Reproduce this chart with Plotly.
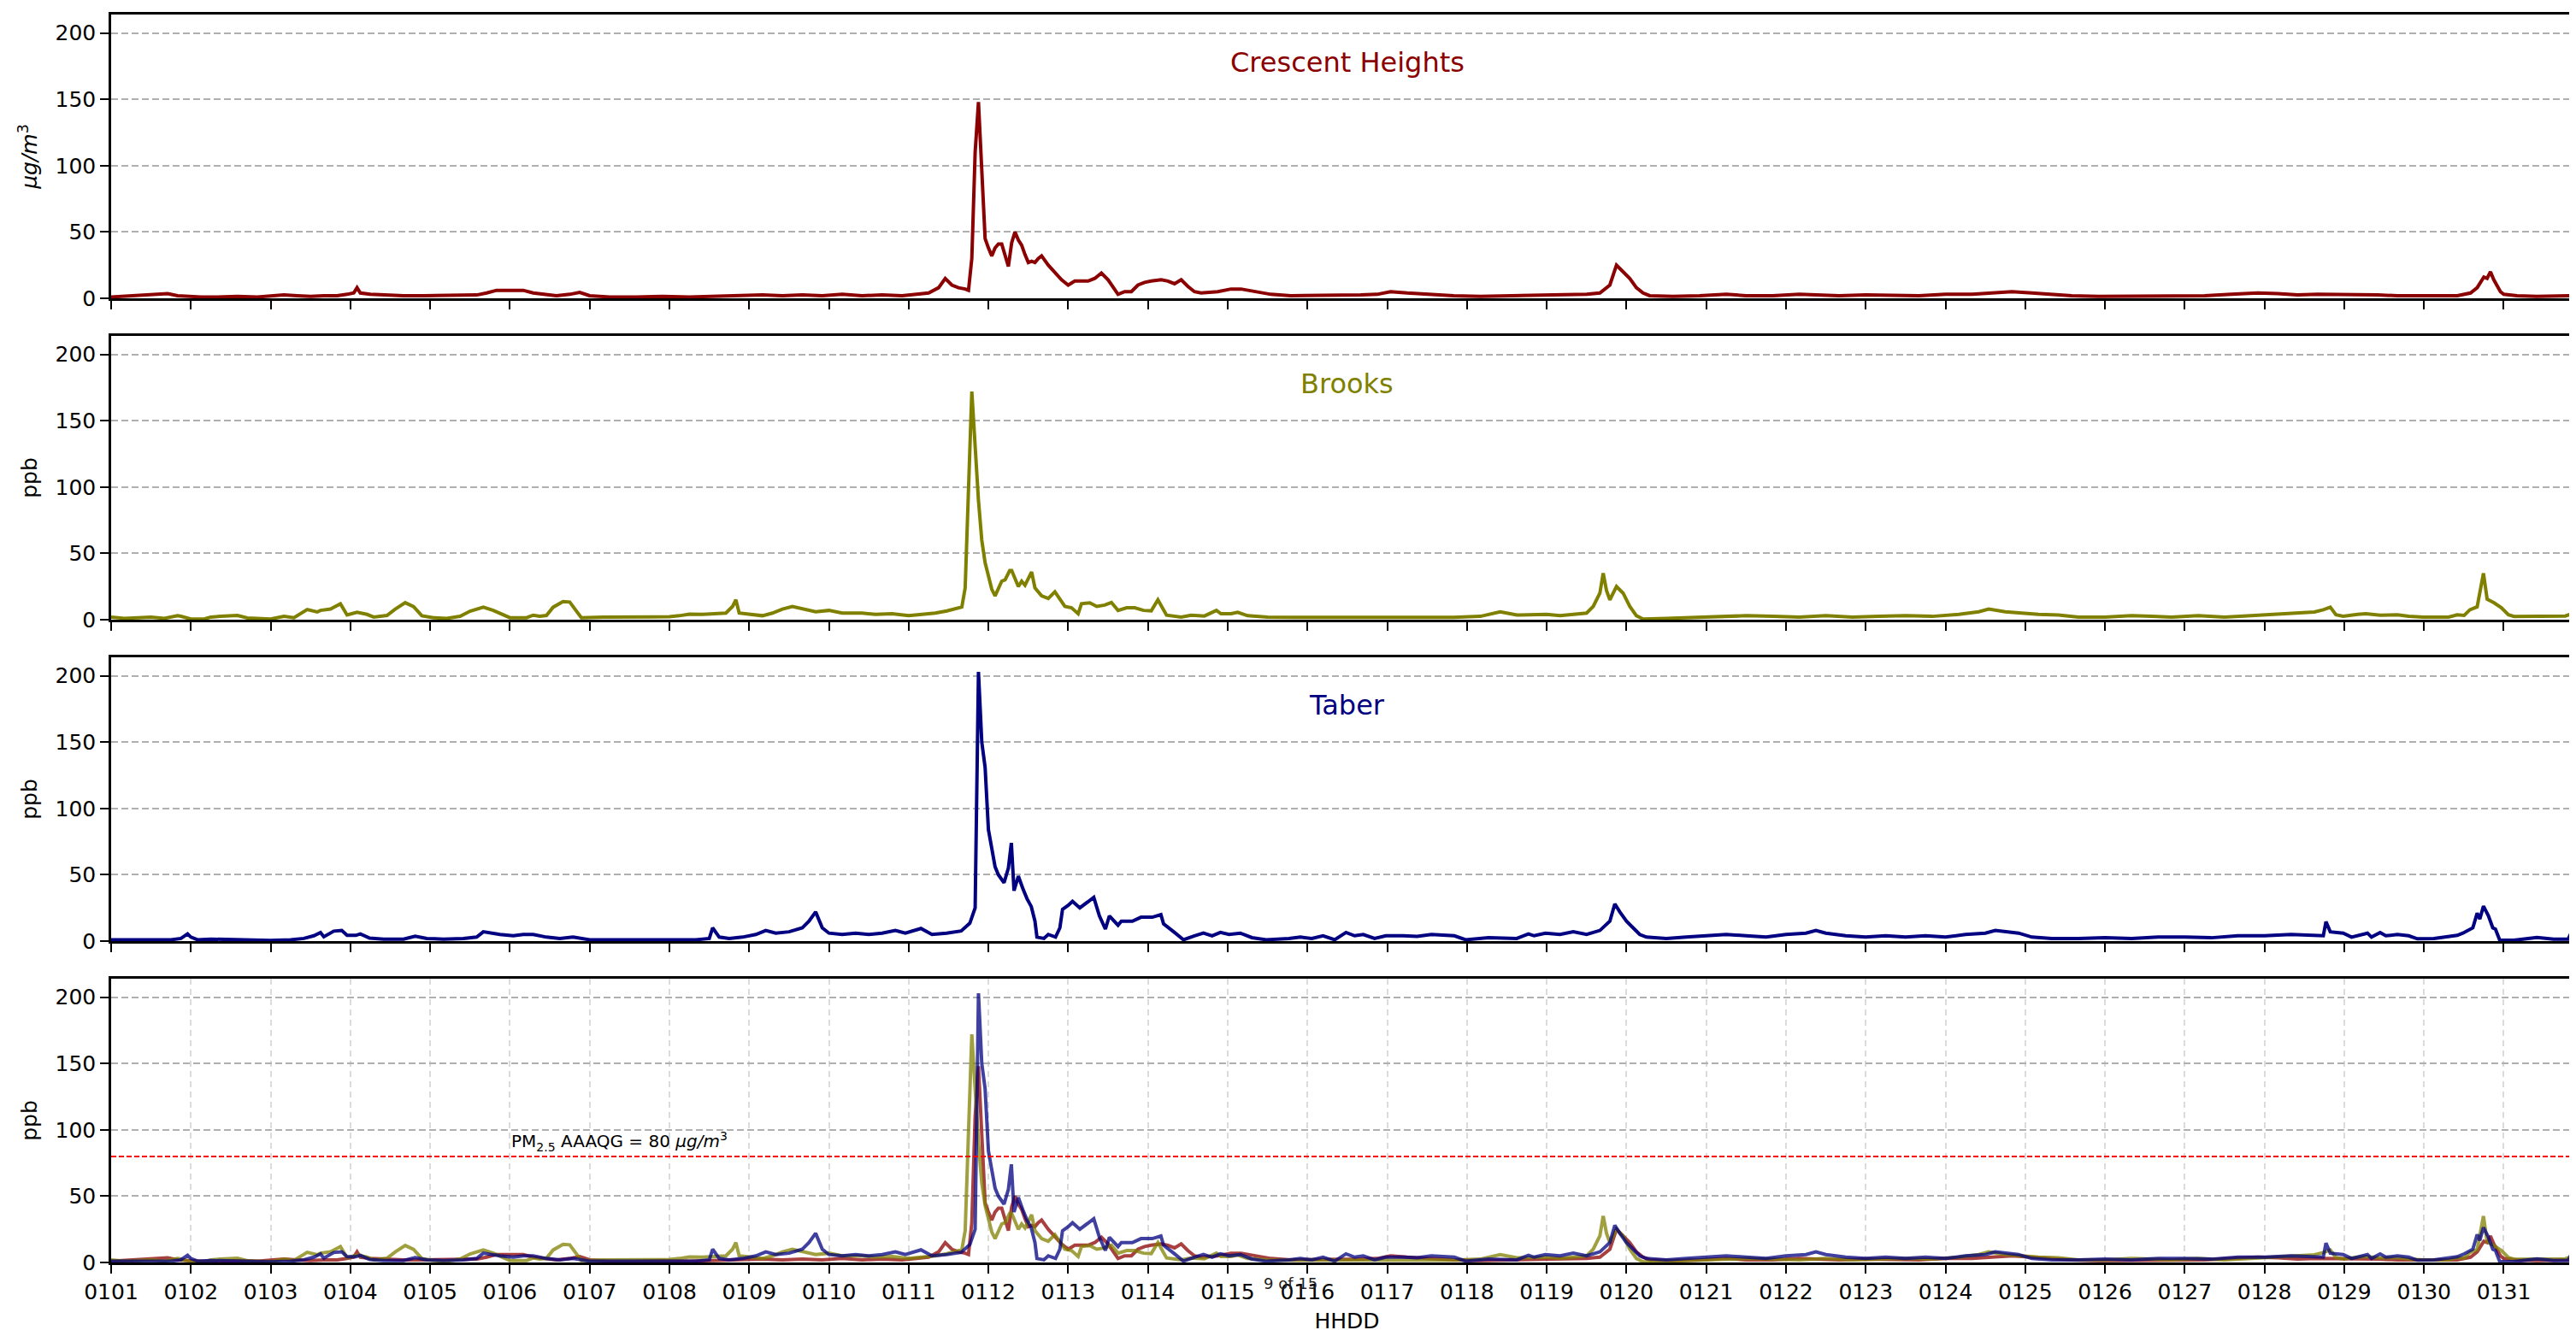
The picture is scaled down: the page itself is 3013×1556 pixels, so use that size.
import plotly.graph_objects as go

# ---------------- data (hours since 0101 00:00) ----------------
day_labels = ["01%02d" % d for d in range(1, 32)]
day_ticks = [24 * k for k in range(31)]

ch_hours = [0,4,8,11,14,17,20,23,27,32,38,44,48,52,56,60,64,68,71,73,74,75,78,82,88,94,100,106,110,113,116,120,124,127,130,134,138,141,144,150,158,166,174,182,190,196,202,208,214,220,226,232,238,242,246,249,251,253,255,257,258,259,260,261,262,263,264,265,266,267,268,269,270,271,272,273,274,275,276,277,278,279,280,282,284,286,288,290,292,294,296,298,300,301,303,305,307,309,311,313,316,318,320,322,324,326,328,333,337,340,344,349,355,363,370,376,381,385,390,397,404,412,420,428,435,440,444,448,451,453,455,457,459,461,463,470,478,486,492,500,508,514,520,528,536,544,552,560,566,572,578,584,590,598,606,614,622,630,638,646,652,658,664,670,676,682,688,694,700,706,710,712,713,714,715,716,717,718,719,720,724,730,736,743]
ch_values = [1,1.5,2,3,3,3.5,2,1.5,1,1,1.5,1,1.5,2.5,2,1.5,2,2,3,4,8,4,3,2.5,2,2,2,2,2.5,4,6,6,6,4,3,2,3,4.5,2,1,1,1.5,1,1.5,2,2.5,2,2.5,2,3,2,2.5,2,3,4,8,15,10,8,7,6,30,110,148,95,45,38,32,38,41,41,32,24,42,50,44,40,33,27,28,27,30,32,25,19,14,10,13,13,13,15,19,14,10,3,5,5,10,12,13,14,13,11,14,9,5,4,5,7,7,5,3,2,2,2,2.5,3,5,4,3,2,1.5,2,2,2.5,3,3,4,10,25,20,15,8,4,2,1.5,2,3,2,2,3,2.5,2,2.5,2,2,3,3,4,5,4,3,2,1.5,1.5,2,2,2,3,4,3.5,2.5,3,3,3,2.5,2,2,1.5,2,4,8,12,16,15,20,14,10,5,3,2,1.5,1.5,2]

br_hours = [0,4,8,12,16,20,21,24,28,30,33,36,38,41,48,52,55,59,62,63,66,67,69,71,74,77,79,83,85.5,88.5,91,93.5,97,101,105,108,112,115,120,125,127,129,131,133,136,138,141.5,148,156,168,171,174,178,182,185,187,188,189,192,196,199,202,205,208,212,216,220,226,230,235,240,244,248,251.5,254,256,257,258,259,260,261,262,263,265,266,268,269,270.4,271,273,274,275,277,278,280,282,284,287,289,291,292,294.5,296.6,299,301,303,305.6,308,310.7,313,315,317.6,320,322,325,329,332.6,334,337,339,342,348,356,364,372,380,388,396,404,412,418,423,428,432,436,440,444,446,448,449,450,451,453,455,457,459,461,468,476,484,492,500,508,516,524,532,540,548,556,562,565,570,575,580,586,592,600,608,614,620,628,636,644,652,658,663,665.7,667.8,669.5,671.7,676,678.5,682.8,688,691.4,695.7,703.4,706,708.1,709.8,712,713.9,715,717.1,719.3,721.4,723.1,731.7,738.5,741.1,743]
br_values = [2,1,1.5,2,1,3,2.6,0.5,0.5,2,2.6,2.6,3.2,1.3,0.5,2.6,1.5,7.7,5.8,7,8,9.4,12,3.6,5.6,4,2,3.2,8,12.8,9.9,3,1.5,1,2.6,6.4,9.4,7,1.5,1.5,3.4,2.6,3.2,9.4,13.7,13.3,1.5,2,2.2,2.2,3,4.2,4,4.5,5,10,15,5,4,3,5,8,10,8,6,7,5,5,4,4.5,3,4,5,6.6,8.6,9.6,24,90,172,131,90,60,43,23,18,29,30,37,37,25,29,26,36,24,18,16,21,10,9,4.5,12,12.7,10,11,13,7,9,9,7,6.7,15,3.4,2.8,2,3.4,2.8,7,4.5,4.5,5.6,3,2,1.7,1.7,1.7,2,1.7,2,1.7,2.5,6,3.5,4,4,3,4,5,10,20,35,22,15,25,20,10,3,0.5,1,1.5,2,3,2.5,2,3,2,2.5,3,2.5,4,6,8,6,5,4,3.5,2,2,3,2.5,2,3,2,3,4,5,5.8,7.5,9.4,3.7,2.6,4,4.5,3.4,3.7,2.6,2,2,3.7,3.3,7.5,9.7,35,15.5,12.7,9,3.7,2.4,2.4,2.8,5,3]

tb_hours = [0,6,12,18,21,23,24,26,30,36,42,48,54,58,61,63,64,67,69.4,71,73.6,75,77.8,82,88,91.5,95,100,106,110,112,114,117,121,124,127,131,135,139,144,152,160,168,176,180,181,183,186,190,194,197,200,204,208,210,212,214,216,220,224,228,232,236,239,243.7,247,251.4,255.8,258.4,260,261,262,263,264,265,266,267,268.7,270,270.9,271.7,273,274.3,275.6,276.9,278,278.6,280.7,282,284.2,285.5,286.3,288,289.3,291.5,293,295.7,297.4,299.2,300.4,303,304,307.3,309.9,313.3,315.9,316.7,320,322.7,326,328.7,331.3,333.8,336.4,339.8,343.3,347.6,354.4,357.9,361.3,364.7,368.2,371.6,374.2,376.8,380.2,383.6,388.8,393,397.3,404.2,407.6,414.5,423,426.5,428.2,431.6,436,440,444,448,451,452.5,454,456,458,460,462,468,474,480,486,492,498,504,510,513,516,522,528,534,540,546,552,558,564,567,570,574,578,584,592,600,608,616,624,632,640,648,656,662,665.7,666.5,667.8,671.7,674.2,679,680.2,682.8,684.5,688,691.4,694,699,706,707.7,710.7,712,712.8,713.9,715.4,716.7,717.5,718.8,723,730,735,739.4,740.7,742,743]
tb_values = [1,1,0.5,1,2,5.4,3,1,1.5,1,1,0.5,1,2,4,6.5,3.3,7.5,8,4.3,4.3,5.4,2.2,1.5,1.5,3.7,2,1.5,2,3,7,6,5,4,5,5,3,2,3,1,1,0.5,1,1,2,10,3,2,3,5,8,6,7,10,15,22,10,6,5,6,5,6,8,6,9.5,5,6,7.6,13.5,25,203,150,131,84,70,56,50,44,55,74,38,49,40,32,26,15,3,2,5,3,10,24,27,30,25,28,33,19,9,19,12,15,15,18,18,20,13,6.5,1,4,6,4,6.5,5,6,2.6,1,2,3,2,4,1,6.5,4,5,2,4,4,3.5,5,4,1,2.6,2,5.4,4,6,5,7,5,8,15,28,22,15,10,5,3,2,3,4,5,4,3,5,6,8,6,4,3,4,3,4,3,5,6,8,7,6,3,2,2,2.5,2,3,3,2.5,4,4,5,4,4,14.6,7,6,3,6,3,6.5,4,5,4,1.7,2,4.3,6,10,21,16.7,26.4,19,10,9,0.6,0.6,2.7,1.5,1.5,8.6,1,0.6]

stations = ["Crescent Heights", "Brooks", "Taber"]
units = ["<i>μg/m</i><sup>3</sup>", "ppb", "ppb", "ppb"]
colors = ["#8B0000", "#808000", "#000080"]
colors_alpha = ["rgba(139,0,0,0.75)", "rgba(128,128,0,0.75)", "rgba(0,0,128,0.75)"]
aaqg_value = 80
aaqg_text = "PM<sub>2.5</sub> AAAQG = 80 <i>μg/m</i><sup>3</sup>"
page_text = "9 of 15"

series = [(ch_hours, ch_values), (br_hours, br_values), (tb_hours, tb_values)]

# ---------------- layout geometry ----------------
W, H = 3013, 1556
ML, MR, MT, MB = 122, 0, 9, 87
plot_h = H - MT - MB
panel_h = 332
gap = (plot_h - 4 * panel_h) / 3
FONT = "DejaVu Sans"
TICK_SIZE = 25


def ax(kind, n):
    return kind if n == 1 else "%s%d" % (kind, n)


fig = go.Figure()

domains = []
for i in range(4):
    top = plot_h - i * (panel_h + gap)
    bottom = top - panel_h
    domains.append([bottom / plot_h, top / plot_h])

for i in range(3):
    h, v = series[i]
    fig.add_trace(go.Scatter(x=h, y=v, mode="lines", line=dict(color=colors[i], width=4),
                             xaxis=ax("x", i + 1), yaxis=ax("y", i + 1), showlegend=False))
for i in range(3):
    h, v = series[i]
    fig.add_trace(go.Scatter(x=h, y=v, mode="lines", line=dict(color=colors_alpha[i], width=4),
                             xaxis="x4", yaxis="y4", showlegend=False))

xr = [0, 743.8]
layout_axes = {}
for i in range(4):
    n = i + 1
    xa = dict(domain=[0, 1], range=xr, tickmode="array", tickvals=day_ticks, ticktext=day_labels,
              ticks="outside", ticklen=10, tickwidth=2, tickcolor="black",
              showline=True, linecolor="black", linewidth=2.5, mirror=True,
              showticklabels=(i == 3), tickfont=dict(size=TICK_SIZE, color="black", family=FONT),
              zeroline=False, anchor=ax("y", n),
              showgrid=(i == 3), gridcolor="rgba(190,190,190,0.55)", gridwidth=2, griddash="7px,5px")
    if i == 3:
        xa["title"] = dict(text="HHDD", font=dict(size=TICK_SIZE, color="black", family=FONT), standoff=12)
    else:
        xa["matches"] = "x4"
    ya = dict(domain=domains[i], range=[0, 214], tickmode="array", tickvals=[0, 50, 100, 150, 200],
              ticks="outside", ticklen=10, tickwidth=2, tickcolor="black",
              showline=True, linecolor="black", linewidth=2.5, mirror=False,
              tickfont=dict(size=TICK_SIZE, color="black", family=FONT), zeroline=False,
              showgrid=True, gridcolor="#b0b0b0", gridwidth=2, griddash="8px,4px",
              anchor=ax("x", n),
              title=dict(text=units[i], font=dict(size=TICK_SIZE, color="black", family=FONT), standoff=14))
    layout_axes[ax("xaxis", n)] = xa
    layout_axes[ax("yaxis", n)] = ya

annotations = []
for i in range(3):
    annotations.append(dict(text=stations[i], x=0.5, xref=ax("x", i + 1) + " domain",
                            y=1 - 56 / panel_h, yref=ax("y", i + 1) + " domain",
                            showarrow=False, xanchor="center", yanchor="middle",
                            font=dict(size=32, color=colors[i], family=FONT)))
annotations.append(dict(text=aaqg_text, x=120, xref="x4", y=aaqg_value, yref="y4",
                        xanchor="left", yanchor="bottom", yshift=1, showarrow=False,
                        font=dict(size=20, color="black", family=FONT)))
annotations.append(dict(text=page_text, x=355, xref="x4", y=-0.017, yref="paper",
                        xanchor="center", yanchor="middle", showarrow=False,
                        font=dict(size=18, color="#222222", family=FONT)))

shapes = [dict(type="line", xref="x4 domain", x0=0, x1=1, yref="y4", y0=aaqg_value, y1=aaqg_value,
               line=dict(color="red", width=2, dash="6px,3px"))]

fig.update_layout(width=W, height=H, margin=dict(l=ML, r=MR, t=MT, b=MB),
                  paper_bgcolor="white", plot_bgcolor="white",
                  font=dict(family=FONT, color="black"),
                  annotations=annotations, shapes=shapes, **layout_axes)

fig.write_html("out.html")
